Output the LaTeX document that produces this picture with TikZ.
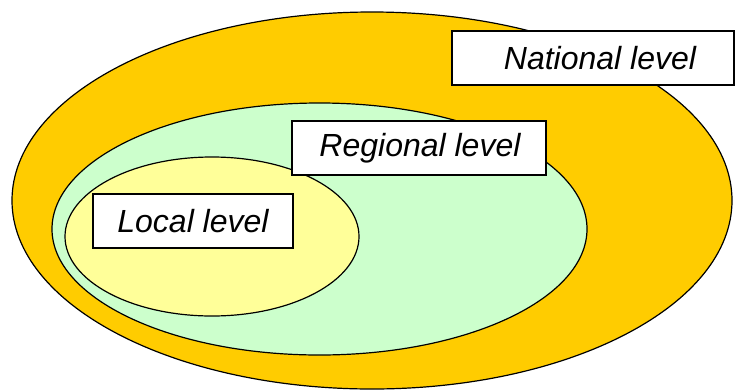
\documentclass[tikz,border=0pt]{standalone}
\usepackage{fontspec}
\setmainfont{Liberation Sans}
\usetikzlibrary{shapes.geometric}
\definecolor{natfill}{HTML}{FFCC00}
\definecolor{regfill}{HTML}{CCFFCC}
\definecolor{locfill}{HTML}{FFFF99}
\tikzset{
  area/.style={ellipse, draw=black, line width=1.2pt, inner sep=0pt},
  levelbox/.style={rectangle, draw=black, fill=white, line width=1.2pt, inner sep=0pt},
  leveltext/.style={font=\fontsize{32}{36}\selectfont\itshape, inner sep=0pt}
}
\begin{document}
\begin{tikzpicture}[x=1pt,y=-1pt]
  \useasboundingbox (0,0) rectangle (736,389);
  % nested areas
  \node[area, fill=natfill, minimum width=720pt, minimum height=377pt] (national) at (372,200.5) {};
  \node[area, fill=regfill, minimum width=535pt, minimum height=252pt] (regional) at (319.5,229) {};
  \node[area, fill=locfill, minimum width=294pt, minimum height=159pt] (local) at (212,236.5) {};
  % label boxes
  \node[levelbox, minimum width=282pt, minimum height=54pt] (natbox) at (593,58) {};
  \node[leveltext] (nattext) at (600,58) {National level};
  \node[levelbox, minimum width=254pt, minimum height=54pt] (regbox) at (419,148) {};
  \node[leveltext] (regtext) at (420,148) {Regional level};
  \node[levelbox, minimum width=200pt, minimum height=54pt] (locbox) at (193,221) {};
  \node[leveltext] (loctext) at (193,221) {Local level};
\end{tikzpicture}
\end{document}
